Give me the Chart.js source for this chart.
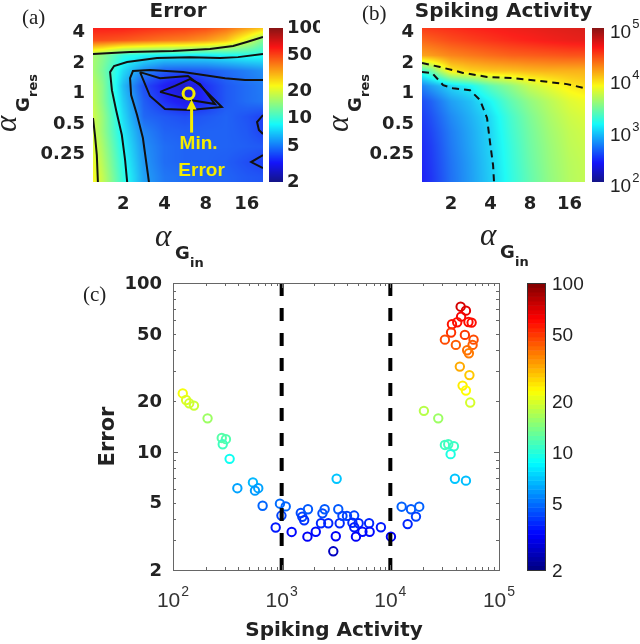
<!DOCTYPE html>
<html>
<head>
<meta charset="utf-8">
<script src="https://cdn.jsdelivr.net/npm/chart.js@4.4.1/dist/chart.umd.min.js"></script>
<style>
  html, body { margin: 0; padding: 0; background: #fff; }
  body { width: 640px; height: 644px; position: relative; overflow: hidden; }
  canvas { position: absolute; }
</style>
</head>
<body>
<canvas id="cA" width="320" height="270" style="left:0;top:0;width:320px;height:270px"></canvas>
<canvas id="cB" width="320" height="270" style="left:320px;top:0;width:320px;height:270px"></canvas>
<canvas id="cC" width="640" height="374" style="left:0;top:270px;width:640px;height:374px"></canvas>
<script>
// grid of the two sweeps (panels a, b)
const alphaIn = [1, 1.41, 2, 2.83, 4, 5.66, 8, 11.3, 16, 22.6];
const alphaRes = [4.76, 3.36, 2.38, 1.68, 1.19, 0.84, 0.59, 0.42, 0.30, 0.21, 0.15];

// error map, rows follow alphaRes, columns follow alphaIn
const errorGrid = [
  [65, 65, 65, 62, 60, 58, 55, 48, 40, 35],
  [50, 50, 48, 45, 42, 40, 36, 30, 20, 12],
  [18, 14, 9.5, 8.5, 8, 8, 8, 8.5, 9, 9],
  [20, 13, 7.5, 5.2, 4.3, 4.2, 4.3, 4.6, 5, 5.5],
  [22, 14, 6.5, 4.0, 3.2, 2.6, 3.5, 4.2, 4.6, 5],
  [24, 14, 7, 4.3, 3.5, 3.0, 3.4, 4.2, 4.6, 4.9],
  [25, 15, 7.5, 4.5, 4.2, 4.0, 4.2, 4.4, 4.1, 3.7],
  [26, 15, 8, 5.1, 4.4, 4.3, 4.4, 4.4, 4.2, 3.7],
  [27, 16, 8.5, 5.4, 4.6, 4.4, 4.4, 4.4, 4.3, 4.2],
  [28, 17, 9, 5.6, 4.6, 4.4, 4.4, 4.3, 4.0, 3.7],
  [30, 18, 9.5, 5.8, 4.8, 4.6, 4.4, 4.4, 4.2, 4.1]
];

// spiking activity map, same layout
const spikeGrid = [
  [35000, 38000, 40000, 43000, 45000, 48000, 50000, 53000, 55000, 58000],
  [22000, 26000, 30000, 33000, 36000, 39000, 42000, 45000, 48000, 50000],
  [14000, 16000, 19000, 21000, 23000, 25000, 26000, 27000, 28000, 28000],
  [1200, 2500, 8500, 10500, 11500, 12000, 13000, 13500, 13500, 13500],
  [400, 650, 1000, 1300, 2200, 3200, 5000, 6500, 8500, 10000],
  [280, 400, 650, 850, 1300, 2200, 3300, 4500, 6000, 7000],
  [250, 350, 550, 750, 1050, 1800, 2800, 4000, 5200, 6000],
  [230, 320, 500, 700, 1000, 1700, 2600, 3700, 4800, 5500],
  [220, 300, 480, 680, 980, 1600, 2500, 3500, 4600, 5200],
  [210, 290, 460, 650, 950, 1550, 2400, 3400, 4400, 5000],
  [200, 280, 450, 640, 930, 1500, 2300, 3300, 4300, 4900]
];

// contour lines, [alphaIn, alphaRes]
const errContours = [
  [[1.2, 2.46], [2.24, 2.57], [4.61, 2.63], [8.6, 2.75], [12.7, 2.95], [16, 3.23], [21, 3.62]],
  [[1.2, 0.573], [1.24, 0.39], [1.28, 0.247], [1.31, 0.112]],
  [[2.16, 0.112], [2.06, 0.221], [1.95, 0.39], [1.77, 0.688], [1.65, 1.08], [1.6, 1.63], [1.71, 1.87], [2.13, 2.05], [3.53, 2.24], [6.14, 2.29], [10.2, 2.24], [13.8, 2.29], [21, 2.46]],
  [[3.13, 0.112], [3.03, 0.157], [2.78, 0.364], [2.52, 0.614], [2.28, 0.967], [2.24, 1.42], [2.35, 1.67], [3.13, 1.71], [5.46, 1.63], [7.91, 1.52], [11.1, 1.42], [15.5, 1.36], [21, 1.36]],
  [[2.65, 1.63], [3.71, 1.42], [5.94, 1.49], [7.27, 1.21], [10.5, 0.737], [6.14, 0.688], [4.03, 0.704], [3.13, 0.946], [2.65, 1.63]],
  [[3.71, 1.04], [4.77, 1.19], [6.14, 1.39], [7.27, 1.24], [9.36, 0.788], [6.14, 0.864], [3.71, 1.04]],
  [[21, 0.614], [19.0, 0.524], [19.6, 0.437], [21, 0.399]],
  [[21, 0.247], [17.2, 0.211], [21, 0.184]]
];
const minError = { x: 6, y: 1 };

// dashed 10^4 and 10^3 contours of panel (b)
const spikeContours = [
  [[1.2, 2.0], [1.65, 1.83], [2.47, 1.6], [3.76, 1.46], [5.93, 1.42], [9.53, 1.33], [15.3, 1.24], [21, 1.13]],
  [[1.2, 1.63], [1.43, 1.6], [1.74, 1.21], [2.07, 1.13], [2.79, 1.08], [3.32, 0.864], [3.76, 0.573], [3.96, 0.332], [4.18, 0.197], [4.25, 0.134]]
];

// panel (c)
const spikes = [123, 132, 141, 156, 208, 281, 307, 287, 332, 391,
  544, 609, 568, 668, 964, 1090, 995, 881, 1236, 1500,
  1548, 1611, 1746, 1726, 2060, 2300, 2373, 2486, 2685, 2986,
  3148, 3206, 3318, 3419, 3625, 3990, 4645, 4477, 4656, 4827,
  5109, 5536, 6379, 6453, 8190, 10130, 12710, 15490, 18450, 17210,
  14430, 20370, 27600, 31780, 34100, 38470, 35880, 39290, 49620, 43620,
  53430, 46240, 49620, 54330, 44370, 49620, 44800, 36900, 41250, 52350,
  55990, 36230, 48530, 31780, 58340, 57150, 40090, 50930, 52820];
const errors = [22.2, 20.3, 19.4, 18.8, 15.8, 12.1, 11.9, 11.1, 9.1, 6.1,
  6.6, 6.1, 5.9, 4.8, 4.94, 4.76, 4.2, 3.57, 3.36, 4.35,
  4.13, 3.94, 4.58, 3.15, 3.37, 3.78, 4.33, 4.58, 3.78, 2.58,
  3.17, 6.94, 4.58, 3.78, 4.18, 4.18, 4.2, 3.81, 3.58, 3.15,
  3.78, 3.37, 3.78, 3.37, 3.58, 3.15, 4.74, 4.58, 4.74, 4.14,
  3.74, 17.5, 15.8, 11.0, 11.1, 10.8, 9.7, 6.94, 6.76, 32.0,
  28.5, 24.7, 23.1, 19.6, 72.4, 68.6, 63.2, 57.0, 58.6, 58.8,
  58.3, 50.9, 49.3, 46.2, 46.2, 43.0, 43.0, 40.0, 38.4];
const thresholds = [1000, 10000];

const inTicks = [2, 4, 8, 16];
const resTicks = [4, 2, 1, 0.5, 0.25];
const errTicks = [100, 50, 20, 10, 5, 2];
const spikeExps = [2, 3, 4, 5];

const SANS = '"Liberation Sans", Arial, sans-serif';
const BOLD = '"DejaVu Sans", sans-serif';
const SERIF = '"Liberation Serif", "Times New Roman", serif';

function jet(t) {
  t = Math.max(0, Math.min(1, t));
  const f = v => Math.round(255 * Math.max(0, Math.min(1, v)));
  return [f(1.5 - Math.abs(4 * t - 3)), f(1.5 - Math.abs(4 * t - 2)), f(1.5 - Math.abs(4 * t - 1))];
}
const rgb = c => `rgb(${c[0]},${c[1]},${c[2]})`;
const tOf = (v, lo, hi) => (Math.log10(v) - Math.log10(lo)) / (Math.log10(hi) - Math.log10(lo));

function gridPos(arr, v) {
  const n = arr.length;
  const asc = arr[n - 1] > arr[0];
  for (let k = 0; k < n - 1; k++) {
    const a = arr[k], b = arr[k + 1];
    if ((asc && v <= b) || (!asc && v >= b)) return k + Math.max(0, Math.min(1, (v - a) / (b - a)));
  }
  return n - 1;
}

// smooth shaded map, like matlab "shading interp"
function heatPlugin(grid, lo, hi) {
  return {
    id: 'heat',
    beforeDatasetsDraw(chart) {
      const { ctx, chartArea: a, scales } = chart;
      const w = Math.round(a.right - a.left), h = Math.round(a.bottom - a.top);
      const img = ctx.createImageData(w, h);
      const lx = alphaIn.map(Math.log2), ly = alphaRes.map(Math.log2);
      const lg = grid.map(r => r.map(Math.log10));
      const cols = [];
      for (let i = 0; i < w; i++) cols.push(gridPos(lx, Math.log2(scales.x.getValueForPixel(a.left + i + 0.5))));
      for (let j = 0; j < h; j++) {
        const gy = gridPos(ly, Math.log2(scales.y.getValueForPixel(a.top + j + 0.5)));
        const j0 = Math.min(Math.floor(gy), ly.length - 2), fy = gy - j0;
        for (let i = 0; i < w; i++) {
          const gx = cols[i];
          const i0 = Math.min(Math.floor(gx), lx.length - 2), fx = gx - i0;
          const v = (lg[j0][i0] * (1 - fx) + lg[j0][i0 + 1] * fx) * (1 - fy) +
                    (lg[j0 + 1][i0] * (1 - fx) + lg[j0 + 1][i0 + 1] * fx) * fy;
          const c = jet((v - Math.log10(lo)) / (Math.log10(hi) - Math.log10(lo)));
          const p = (j * w + i) * 4;
          img.data[p] = c[0] * 0.86 + 32;
          img.data[p + 1] = c[1] * 0.86 + 32;
          img.data[p + 2] = c[2] * 0.86 + 26;
          img.data[p + 3] = 255;
        }
      }
      ctx.putImageData(img, a.left, a.top);
    }
  };
}

function colorbarPlugin(lo, hi, dx, bw, bands) {
  return {
    id: 'colorbar',
    afterDraw(chart) {
      const { ctx, chartArea: a, scales: { cb } } = chart;
      const x0 = a.right + dx;
      ctx.save();
      if (bands) {
        for (let k = 0; k < bands; k++) {
          const y1 = cb.getPixelForValue(lo * Math.pow(hi / lo, k / bands));
          const y2 = cb.getPixelForValue(lo * Math.pow(hi / lo, (k + 1) / bands));
          ctx.fillStyle = rgb(jet((k + 0.5) / bands));
          ctx.fillRect(x0, y2, bw, y1 - y2 + 0.5);
        }
        ctx.strokeStyle = '#333';
        ctx.lineWidth = 1;
        ctx.strokeRect(x0 + 0.5, a.top + 0.5, bw, a.bottom - a.top);
      } else {
        for (let yy = Math.floor(a.top); yy < a.bottom; yy++) {
          const c = jet(tOf(cb.getValueForPixel(yy + 0.5), lo, hi));
          ctx.fillStyle = rgb(c.map(v => v * 0.9 + 20));
          ctx.fillRect(x0, yy, bw, 1);
        }
      }
      ctx.restore();
    }
  };
}

function alphaLabel(ctx, x, y, sub, rotate) {
  ctx.save();
  ctx.translate(x, y);
  if (rotate) ctx.rotate(-Math.PI / 2);
  ctx.fillStyle = '#222';
  ctx.textAlign = 'left';
  ctx.textBaseline = 'alphabetic';
  ctx.font = `italic 31px ${SERIF}`;
  ctx.fillText('α', 0, 0);
  ctx.font = `bold 18px ${BOLD}`;
  ctx.fillText('G', 20, 13);
  ctx.font = `bold 13px ${BOLD}`;
  ctx.fillText(sub, 35, 21);
  ctx.restore();
}

function powLabel(ctx, exp, x, by, big, small, center) {
  ctx.font = `${big}px ${SANS}`;
  const w1 = ctx.measureText('10').width;
  ctx.font = `${small}px ${SANS}`;
  const w2 = ctx.measureText(String(exp)).width;
  const x0 = center ? x - (w1 + w2 + 1) / 2 : x;
  ctx.textAlign = 'left';
  ctx.textBaseline = 'alphabetic';
  ctx.font = `${big}px ${SANS}`;
  ctx.fillText('10', x0, by);
  ctx.font = `${small}px ${SANS}`;
  ctx.fillText(String(exp), x0 + w1 + 1, by - Math.round(big * 0.5));
}

function mapScales(leftWidth, lo, hi) {
  return {
    x: { type: 'logarithmic', min: 1.2, max: 21, grid: { display: false }, border: { display: false },
         ticks: { display: false }, afterFit: s => { s.height = 88; } },
    y: { type: 'logarithmic', min: 0.134, max: 4.44, grid: { display: false }, border: { display: false },
         ticks: { display: false }, afterFit: s => { s.width = leftWidth; } },
    cb: { type: 'logarithmic', axis: 'y', position: 'right', min: lo, max: hi, display: false }
  };
}

function mapTicks(ctx, a, x, y) {
  ctx.fillStyle = '#222';
  ctx.font = `bold 18px ${BOLD}`;
  ctx.textBaseline = 'middle';
  ctx.textAlign = 'right';
  resTicks.forEach(v => ctx.fillText(String(v), a.left - 8, y.getPixelForValue(v)));
  ctx.textAlign = 'center';
  inTicks.forEach(v => ctx.fillText(String(v), x.getPixelForValue(v), a.bottom + 22));
}

// ---- panel (a)
new Chart(document.getElementById('cA'), {
  type: 'scatter',
  data: {
    datasets: errContours.map(c => ({
      type: 'line', data: c.map(p => ({ x: p[0], y: p[1] })),
      borderColor: '#111', borderWidth: 2, pointRadius: 0, tension: 0, fill: false
    }))
  },
  options: {
    responsive: false, animation: false, events: [],
    layout: { padding: { top: 28, right: 57, left: 0, bottom: 0 } },
    plugins: { legend: { display: false }, tooltip: { enabled: false } },
    scales: mapScales(93, 2, 100)
  },
  plugins: [heatPlugin(errorGrid, 2, 100), colorbarPlugin(2, 100, 6, 14, 0), {
    id: 'labelsA',
    afterDraw(chart) {
      const { ctx, chartArea: a, scales: { x, y, cb } } = chart;
      ctx.save();
      // min error marker
      const mx = x.getPixelForValue(minError.x), my = y.getPixelForValue(minError.y);
      ctx.strokeStyle = '#f4ec00';
      ctx.fillStyle = '#f4ec00';
      ctx.lineWidth = 3;
      ctx.beginPath(); ctx.arc(mx, my, 5.5, 0, 2 * Math.PI); ctx.stroke();
      ctx.beginPath(); ctx.moveTo(mx + 3, my + 39); ctx.lineTo(mx + 3, my + 14); ctx.stroke();
      ctx.beginPath(); ctx.moveTo(mx + 3, my + 6); ctx.lineTo(mx - 2, my + 16); ctx.lineTo(mx + 8, my + 16); ctx.closePath(); ctx.fill();
      ctx.font = `bold 19px ${SANS}`;
      ctx.textAlign = 'center'; ctx.textBaseline = 'middle';
      ctx.fillText('Min.', mx + 10, my + 50);
      ctx.fillText('Error', mx + 13, my + 77);

      mapTicks(ctx, a, x, y);
      ctx.textAlign = 'left';
      errTicks.forEach(v => ctx.fillText(String(v), a.right + 24, cb.getPixelForValue(v)));
      ctx.font = `bold 20px ${BOLD}`;
      ctx.textAlign = 'center';
      ctx.fillText('Error', (a.left + a.right) / 2, 12);
      ctx.font = `21px ${SERIF}`;
      ctx.textAlign = 'left';
      ctx.fillText('(a)', 22, 18);
      ctx.restore();
      alphaLabel(ctx, 155, 246, 'in', false);
      alphaLabel(ctx, 16, 132, 'res', true);
    }
  }]
});

// ---- panel (b)
new Chart(document.getElementById('cB'), {
  type: 'scatter',
  data: {
    datasets: spikeContours.map(c => ({
      type: 'line', data: c.map(p => ({ x: p[0], y: p[1] })),
      borderColor: '#111', borderWidth: 2, borderDash: [7, 5], pointRadius: 0, tension: 0, fill: false
    }))
  },
  options: {
    responsive: false, animation: false, events: [],
    layout: { padding: { top: 28, right: 55, left: 0, bottom: 0 } },
    plugins: { legend: { display: false }, tooltip: { enabled: false } },
    scales: mapScales(102, 100, 100000)
  },
  plugins: [heatPlugin(spikeGrid, 100, 100000), colorbarPlugin(100, 100000, 7, 12, 0), {
    id: 'labelsB',
    afterDraw(chart) {
      const { ctx, chartArea: a, scales: { x, y, cb } } = chart;
      ctx.save();
      mapTicks(ctx, a, x, y);
      ctx.fillStyle = '#222';
      spikeExps.forEach(e => powLabel(ctx, e, a.right + 25, cb.getPixelForValue(Math.pow(10, e)) + 10, 19, 13, false));
      ctx.font = `bold 20px ${BOLD}`;
      ctx.textAlign = 'center'; ctx.textBaseline = 'middle';
      ctx.fillText('Spiking Activity', (a.left + a.right) / 2, 12);
      ctx.font = `21px ${SERIF}`;
      ctx.textAlign = 'left';
      ctx.fillText('(b)', 42, 14);
      ctx.restore();
      alphaLabel(ctx, 160, 245, 'in', false);
      alphaLabel(ctx, 28, 132, 'res', true);
    }
  }]
});

// ---- panel (c)
new Chart(document.getElementById('cC'), {
  type: 'scatter',
  data: {
    datasets: [
      ...thresholds.map(t => ({
        type: 'line', data: [{ x: t, y: 100 }, { x: t, y: 1.78 }],
        borderColor: '#000', borderWidth: 4, borderDash: [13, 12], borderCapStyle: 'butt',
        pointRadius: 0, fill: false, clip: false
      })),
      {
        data: spikes.map((s, i) => ({ x: s, y: errors[i] })),
        pointRadius: 4.2, borderWidth: 2, pointBackgroundColor: 'rgba(0,0,0,0)',
        pointBorderColor: c => rgb(jet(tOf(c.raw.y, 2, 100)))
      }
    ]
  },
  options: {
    responsive: false, animation: false, events: [],
    layout: { padding: { top: 13, right: 141, left: 0, bottom: 0 } },
    plugins: { legend: { display: false }, tooltip: { enabled: false } },
    scales: {
      x: { type: 'logarithmic', min: 100, max: 100000, grid: { display: false }, border: { display: false },
           ticks: { display: false }, afterFit: s => { s.height = 74; } },
      y: { type: 'logarithmic', min: 2, max: 100, grid: { display: false }, border: { display: false },
           ticks: { display: false }, afterFit: s => { s.width = 173; } },
      cb: { type: 'logarithmic', axis: 'y', position: 'right', min: 2, max: 100, display: false }
    }
  },
  plugins: [colorbarPlugin(2, 100, 28, 18, 64), {
    id: 'boxC',
    afterDraw(chart) {
      const { ctx, chartArea: a, scales: { x, y, cb } } = chart;
      ctx.save();
      ctx.strokeStyle = '#666';
      ctx.lineWidth = 1;
      ctx.strokeRect(Math.round(a.left) + 0.5, Math.round(a.top) + 0.5, a.right - a.left, a.bottom - a.top);
      ctx.beginPath();
      for (let d = 2; d < 5; d++) {
        for (let k = 1; k < 10; k++) {
          const px = Math.round(x.getPixelForValue(k * Math.pow(10, d))) + 0.5;
          const len = k === 1 ? 5 : 3;
          ctx.moveTo(px, a.bottom); ctx.lineTo(px, a.bottom - len);
          ctx.moveTo(px, a.top); ctx.lineTo(px, a.top + len);
        }
      }
      for (let d = 0; d < 2; d++) {
        for (let k = 1; k < 10; k++) {
          const v = k * Math.pow(10, d);
          if (v < 2) continue;
          const py = Math.round(y.getPixelForValue(v)) + 0.5;
          const len = k === 1 ? 5 : 3;
          ctx.moveTo(a.left, py); ctx.lineTo(a.left + len, py);
          ctx.moveTo(a.right, py); ctx.lineTo(a.right - len, py);
        }
      }
      ctx.stroke();

      ctx.fillStyle = '#222';
      ctx.font = `bold 18px ${BOLD}`;
      ctx.textAlign = 'right'; ctx.textBaseline = 'middle';
      errTicks.forEach(v => ctx.fillText(String(v), a.left - 11, y.getPixelForValue(v) + 1));
      ctx.font = `19px ${SANS}`;
      ctx.textAlign = 'left';
      errTicks.forEach(v => ctx.fillText(String(v), a.right + 53, cb.getPixelForValue(v) + 2));
      ctx.fillStyle = '#333';
      spikeExps.forEach(e => powLabel(ctx, e, x.getPixelForValue(Math.pow(10, e)), a.bottom + 37, 21, 14, true));

      ctx.fillStyle = '#222';
      ctx.font = `bold 20px ${BOLD}`;
      ctx.textAlign = 'center'; ctx.textBaseline = 'middle';
      ctx.fillText('Spiking Activity', 334, 361);
      ctx.save();
      ctx.translate(109, (a.top + a.bottom) / 2 + 10);
      ctx.rotate(-Math.PI / 2);
      ctx.font = `bold 21px ${BOLD}`;
      ctx.fillText('Error', 0, 0);
      ctx.restore();
      ctx.font = `21px ${SERIF}`;
      ctx.textAlign = 'left';
      ctx.fillText('(c)', 83, 25);
      ctx.restore();
    }
  }]
});
</script>
</body>
</html>
